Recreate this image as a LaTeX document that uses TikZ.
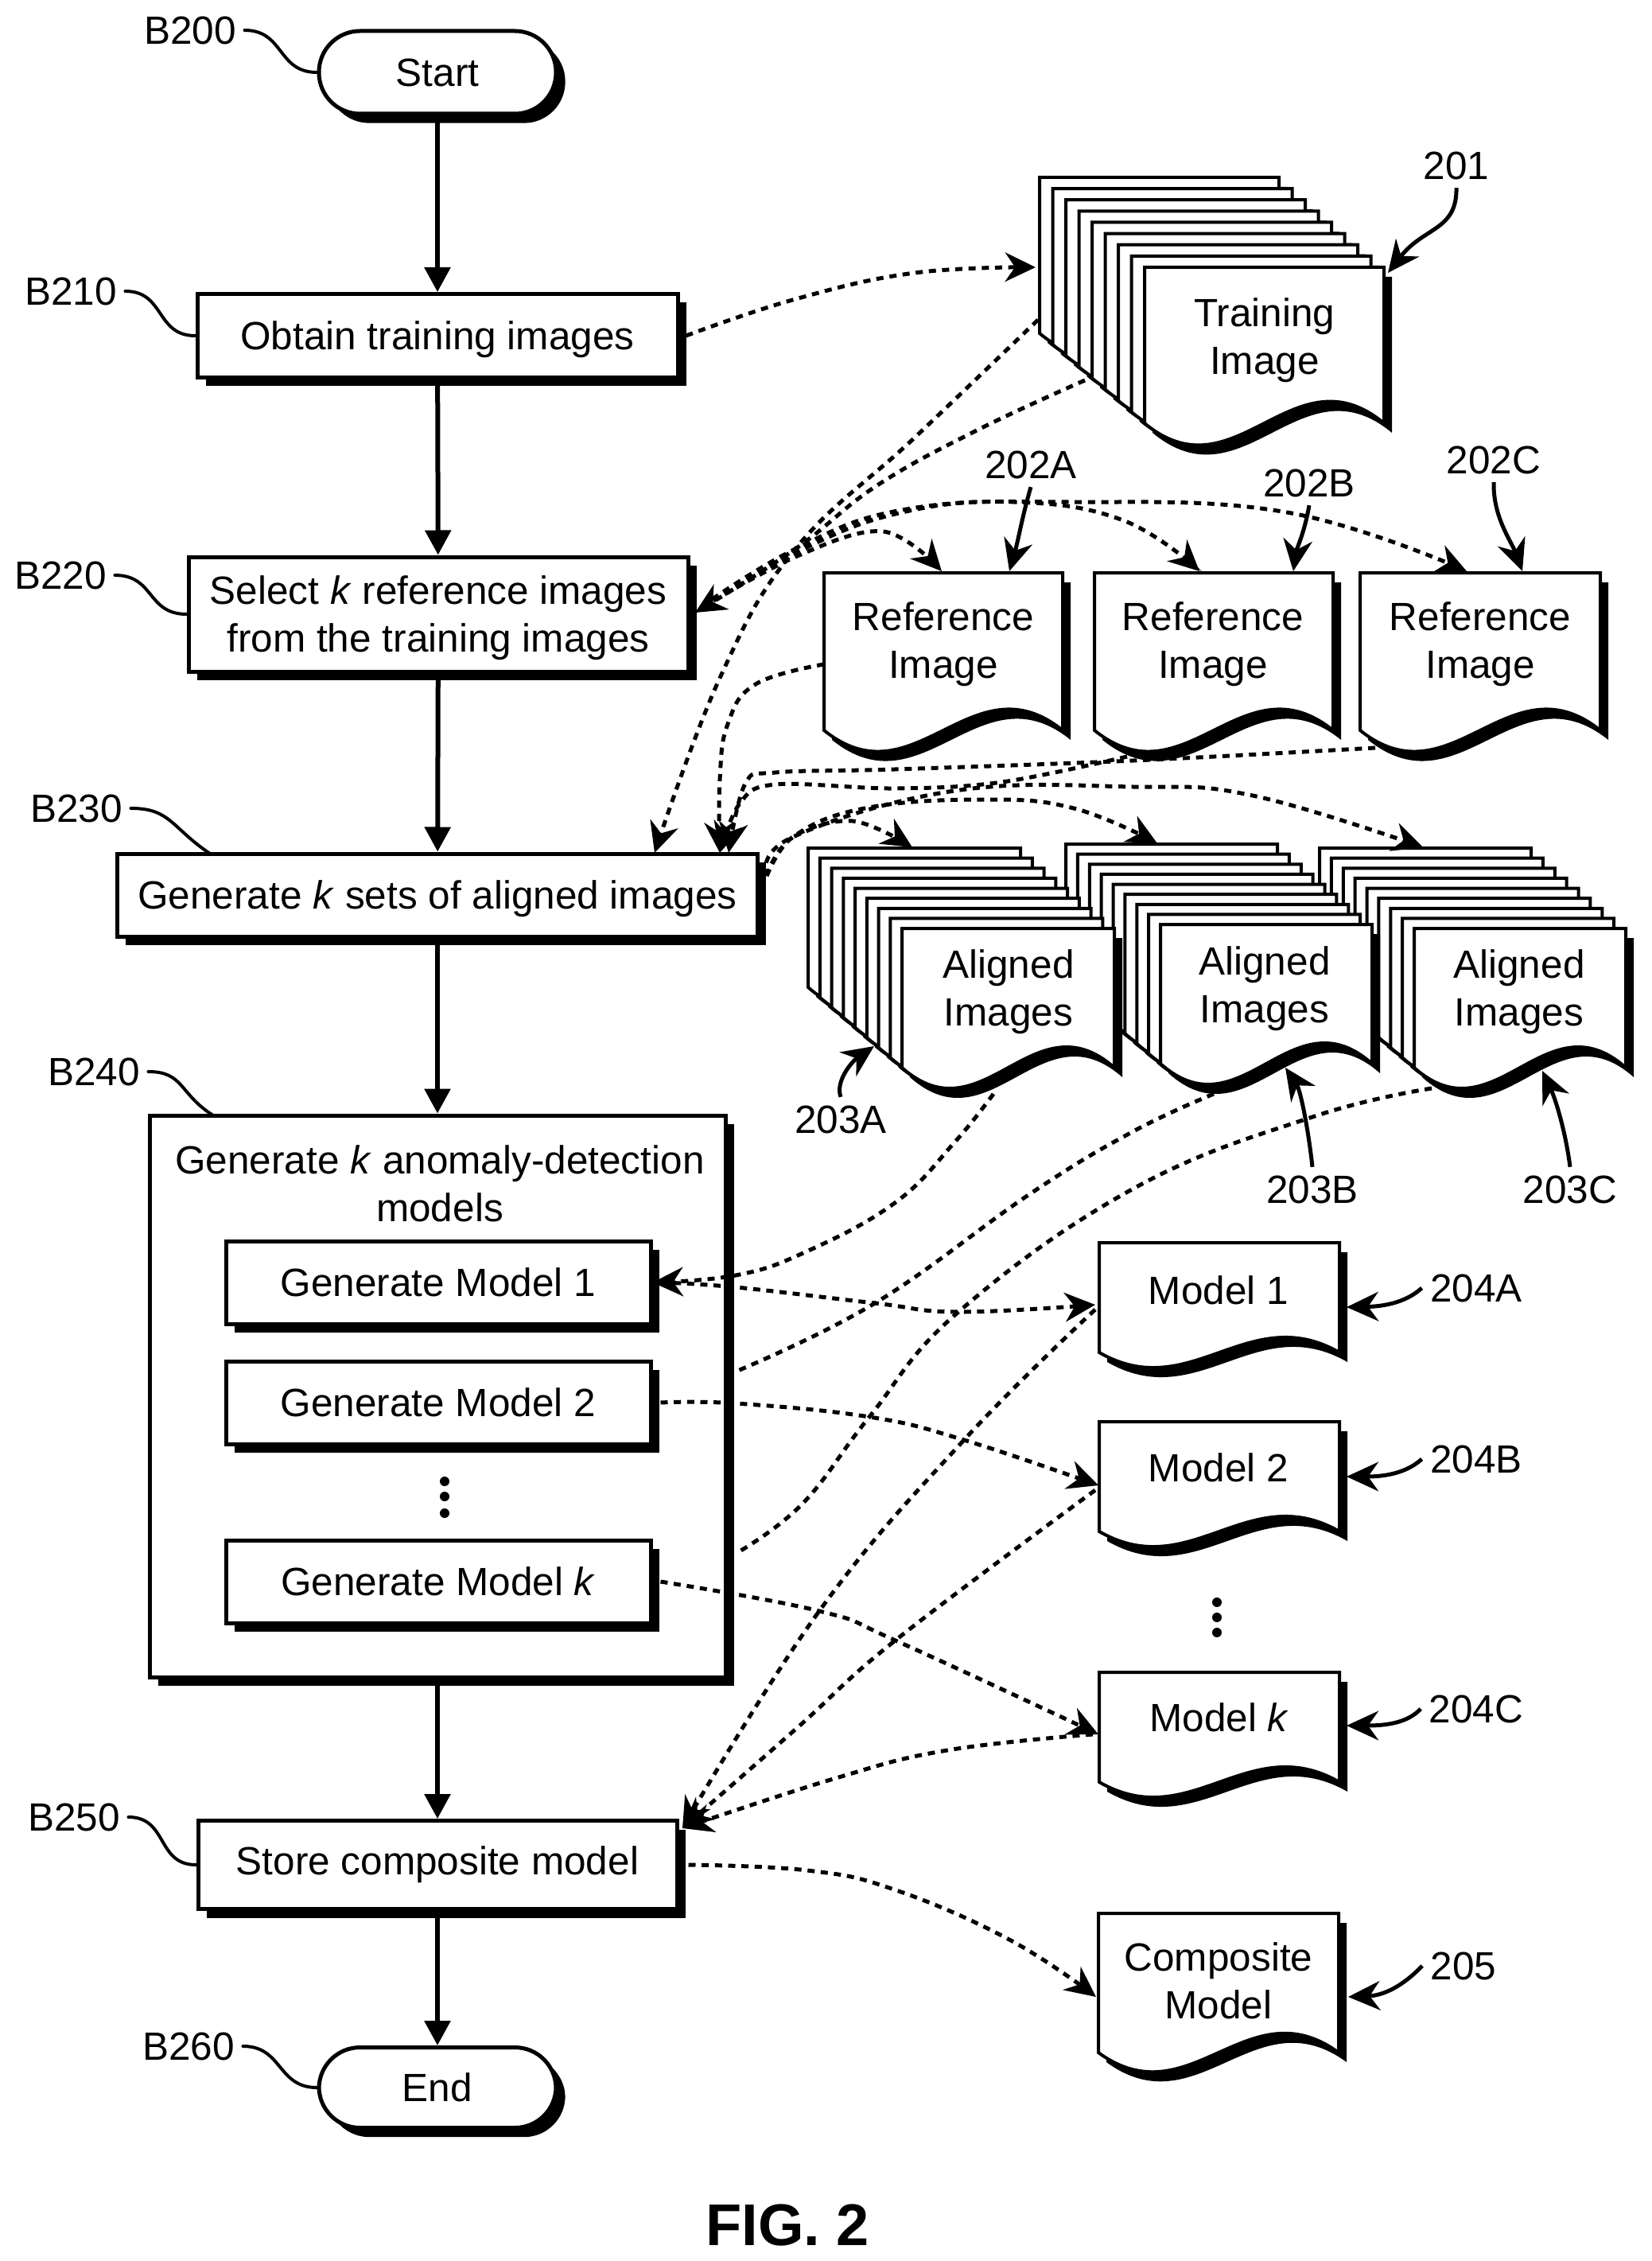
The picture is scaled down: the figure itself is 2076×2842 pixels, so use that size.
\documentclass[tikz,border=0pt]{standalone}
\usepackage{fontspec}
\setmainfont{Liberation Sans}
\usetikzlibrary{arrows.meta,shadows,calc}
\newcommand{\pagedoc}[3]{%
  \pgfmathsetmacro{\wa}{#1}\pgfmathsetmacro{\ha}{#2}\pgfmathsetmacro{\aa}{#3}%
  \fill[black] (10,12) -- (\wa+10,12) -- (\wa+10,\ha+12)
     .. controls ({.62*\wa+10},{\ha-\aa+12}) and ({.38*\wa+10},{\ha+\aa+12}) .. (10,\ha+12) -- cycle;
  \filldraw[fill=white,draw=black,line width=1.2pt,miter limit=2] (0,0) -- (\wa,0) -- (\wa,\ha)
     .. controls ({.62*\wa},{\ha-\aa}) and ({.38*\wa},{\ha+\aa}) .. (0,\ha) -- cycle;
}
% x0 y0 x1 y1 w h a : stack of nine pages, back to front
\newcommand{\stackdoc}[7]{%
  \foreach \i in {0,...,8}{
    \pgfmathsetmacro{\px}{#1+(#3-#1)*\i/8}
    \pgfmathsetmacro{\py}{#2+(#4-#2)*\i/8}
    \begin{scope}[shift={(\px,\py)}]\pagedoc{#5}{#6}{#7}\end{scope}
  }
}
\newcommand{\singledoc}[5]{\begin{scope}[shift={(#1,#2)}]\pagedoc{#3}{#4}{#5}\end{scope}}
\def\u{0.3pt}
\tikzset{
  x=0.3pt,y=-0.3pt,
  txt/.style={font=\fontsize{14.85pt}{18pt}\selectfont,align=center,inner sep=0pt},
  lbl/.style={font=\fontsize{14.85pt}{18pt}\selectfont,inner sep=3pt},
  procbox/.style={txt,draw=black,fill=white,line width=1.5pt,
     general shadow={fill=black,shadow xshift=3.2pt,shadow yshift=-3.3pt}},
  termbox/.style={procbox,rounded corners=15.5pt,general shadow={fill=black,shadow xshift=3.5pt,shadow yshift=-3.5pt}},
  flow/.style={line width=1.8pt,-{Triangle[length=9.3pt,width=9.6pt]}},
  leader/.style={line width=1.2pt,line cap=round},
  refarrow/.style={line width=1.5pt,-{Stealth[length=12pt,width=11pt]}},
  dconn/.style={line width=1.5pt,dash pattern=on 2.7pt off 2.3pt,-{Stealth[length=11.5pt,width=11pt]}},
  dplain/.style={line width=1.5pt,dash pattern=on 2.7pt off 2.3pt},
  dotmark/.style={circle,fill=black,inner sep=0pt,minimum size=3.6pt},
}
\begin{document}
\begin{tikzpicture}
\useasboundingbox (0,0) rectangle (2076,2842);
% flow boxes
\node[termbox,minimum width=298*\u,minimum height=104*\u] (start) at (550,91) {Start};
\node[procbox,text depth=0pt,minimum width=604*\u,minimum height=105*\u] (obtain) at (550,422) {Obtain training images};
\node[procbox,text depth=0pt,minimum width=628*\u,minimum height=144*\u] (select) at (551,772) {Select \textit{k} reference images\\from the training images};
\node[procbox,text depth=0pt,minimum width=805*\u,minimum height=104*\u] (gensets) at (550,1125) {Generate \textit{k} sets of aligned images};
\node[procbox,minimum width=724*\u,minimum height=706*\u] (bigbox) at (550,1755) {};
\node[txt] (bigtitle) at (553,1488) {Generate \textit{k} anomaly-detection\\models};
\node[procbox,minimum width=534*\u,minimum height=104*\u] (gm1) at (551,1612) {Generate Model 1};
\node[procbox,minimum width=534*\u,minimum height=104*\u] (gm2) at (551,1763) {Generate Model 2};
\node[procbox,minimum width=534*\u,minimum height=104*\u] (gmk) at (551,1988) {Generate Model \textit{k}};
\node[dotmark] (d1) at (559,1862) {};
\node[dotmark] (d2) at (559,1881) {};
\node[dotmark] (d3) at (559,1902) {};
\node[procbox,minimum width=602*\u,minimum height=111*\u] (store) at (550,2344) {Store composite model};
\node[termbox,minimum width=298*\u,minimum height=101*\u] (end) at (550,2624) {End};
% step labels
\node[lbl] (b200) at (239,38) {B200};
\node[lbl] (b210) at (89,366) {B210};
\node[lbl] (b220) at (76,723) {B220};
\node[lbl] (b230) at (96,1016) {B230};
\node[lbl] (b240) at (118,1347) {B240};
\node[lbl] (b250) at (93,2284) {B250};
\node[lbl] (b260) at (237,2572) {B260};
\draw[leader] (b200.east) .. controls +(50,0) and ([xshift=-50*\u]start.west) .. (start.west);
\draw[leader] (b210.east) .. controls +(50,0) and ([xshift=-50*\u]obtain.west) .. (obtain.west);
\draw[leader] (b220.east) .. controls +(50,0) and ([xshift=-50*\u]select.west) .. (select.west);
\coordinate (gsTop) at (264,1073);
\coordinate (bbTop) at (268,1402);
\draw[leader] (b230.east) .. controls +(50,0) and (215,1040) .. (gsTop);
\draw[leader] (b240.east) .. controls +(45,0) and (225,1375) .. (bbTop);
\draw[leader] (b250.east) .. controls +(50,0) and ([xshift=-50*\u]store.west) .. (store.west);
\draw[leader] (b260.east) .. controls +(50,0) and ([xshift=-50*\u]end.west) .. (end.west);
% main flow
\draw[flow] (start) -- (obtain);
\draw[flow] (obtain) -- (select);
\draw[flow] (select) -- (gensets);
\draw[flow] (gensets) -- (bigbox);
\draw[flow] (bigbox) -- (store);
\draw[flow] (store) -- (end);
% documents
\stackdoc{1307}{223}{1439}{336}{301}{196}{95}
\node[txt] (train) at (1590,428) {Training\\Image};
\singledoc{1036}{720}{300}{198}{92}
\singledoc{1376}{720}{300}{198}{92}
\singledoc{1710}{720}{302}{198}{92}
\node[txt] (ref1) at (1186,810) {Reference\\Image};
\node[txt] (ref2) at (1525,810) {Reference\\Image};
\node[txt] (ref3) at (1861,810) {Reference\\Image};
\stackdoc{1659}{1066}{1778}{1167}{266}{175}{90}
\stackdoc{1340}{1061}{1459}{1162}{266}{175}{90}
\stackdoc{1016}{1066}{1134}{1167}{267}{175}{90}
\node[txt] (al1) at (1268,1247) {Aligned\\Images};
\node[txt] (al2) at (1590,1243) {Aligned\\Images};
\node[txt] (al3) at (1910,1247) {Aligned\\Images};
\singledoc{1382}{1562}{302}{138}{66}
\singledoc{1382}{1787}{302}{138}{66}
\singledoc{1382}{2102}{302}{138}{66}
\singledoc{1381}{2405}{302}{175}{84}
\node[txt] (m1) at (1532,1622) {Model 1};
\node[txt] (m2) at (1532,1845) {Model 2};
\node[txt] (mk) at (1533,2159) {Model \textit{k}};
\node[txt] (comp) at (1532,2490) {Composite\\Model};
\node[dotmark] (e1) at (1530,2014) {};
\node[dotmark] (e2) at (1530,2033) {};
\node[dotmark] (e3) at (1530,2052) {};
% part labels
\node[lbl] (l201) at (1831,208) {201};
\node[lbl] (l202a) at (1296,584) {202A};
\node[lbl] (l202b) at (1646,607) {202B};
\node[lbl] (l202c) at (1878,578) {202C};
\node[lbl] (l203a) at (1057,1407) {203A};
\node[lbl] (l203b) at (1650,1495) {203B};
\node[lbl] (l203c) at (1974,1495) {203C};
\node[lbl] (l204a) at (1856,1619) {204A};
\node[lbl] (l204b) at (1856,1834) {204B};
\node[lbl] (l204c) at (1856,2148) {204C};
\node[lbl] (l205) at (1840,2471) {205};
\coordinate (t201) at (1745,343);
\coordinate (t202a) at (1269,718);
\coordinate (t202b) at (1626,718);
\coordinate (t202c) at (1914,718);
\coordinate (t203a) at (1099,1315);
\coordinate (t203b) at (1616,1342);
\coordinate (t203c) at (1939,1346);
\coordinate (t204a) at (1693,1643);
\coordinate (t204b) at (1693,1856);
\coordinate (t204c) at (1693,2169);
\coordinate (t205) at (1695,2510);
\draw[refarrow] (l201.south) .. controls (1832,290) and (1790,285) .. (t201);
\draw[refarrow] (l202a.south) .. controls (1285,650) and (1280,680) .. (t202a);
\draw[refarrow] (l202b.south) .. controls (1640,670) and (1630,690) .. (t202b);
\draw[refarrow] (l202c.south) .. controls (1877,650) and (1900,680) .. (t202c);
\draw[refarrow] (l203a.north) .. controls (1050,1360) and (1070,1335) .. (t203a);
\draw[refarrow] (l203b.north) .. controls (1645,1420) and (1635,1370) .. (t203b);
\draw[refarrow] (l203c.north) .. controls (1968,1420) and (1955,1380) .. (t203c);
\draw[refarrow] (l204a.west) .. controls (1770,1635) and (1745,1642) .. (t204a);
\draw[refarrow] (l204b.west) .. controls (1770,1850) and (1745,1856) .. (t204b);
\draw[refarrow] (l204c.west) .. controls (1770,2165) and (1745,2169) .. (t204c);
\draw[refarrow] (l205.west) .. controls (1770,2490) and (1745,2508) .. (t205);
% dashed data flows
\coordinate (trL) at (1302,336);
\coordinate (trS1) at (1305,402);
\coordinate (trS2) at (1364,478);
\coordinate (selR) at (874,770);
\coordinate (selA) at (868,772);
\coordinate (gsT1) at (823,1072);
\coordinate (gsT2) at (905,1072);
\coordinate (gsT3) at (916,1072);
\coordinate (gsR) at (964,1101);
\coordinate (r1T) at (1184,718);
\coordinate (r2T) at (1508,718);
\coordinate (r3T) at (1844,718);
\coordinate (r1L) at (1036,835);
\coordinate (r2B) at (1417,951);
\coordinate (r3B) at (1729,940);
\coordinate (a1T) at (1147,1065);
\coordinate (a2T) at (1455,1060);
\coordinate (a3T) at (1789,1065);
\coordinate (a1B) at (1249,1375);
\coordinate (a2B) at (1526,1375);
\coordinate (a3B) at (1800,1368);
\coordinate (bbR1) at (925,1724);
\coordinate (bbR2) at (928,1951);
\coordinate (m1L) at (1377,1640);
\coordinate (m2L) at (1381,1867);
\coordinate (mkL) at (1381,2180);
\coordinate (cmL) at (1378,2510);
\coordinate (stT) at (858,2298);
\coordinate (m1S) at (1377,1646);
\coordinate (m2S) at (1377,1873);
\coordinate (mkS) at (1374,2180);
\draw[dconn] plot[smooth,tension=.7] coordinates {([xshift=8*\u]obtain.east) (1000,376) (1150,343) (trL)};
\draw[dconn] plot[smooth,tension=.7] coordinates {(trS1) (1150,550) (1000,690) (906,850) (gsT1)};
\draw[dconn] plot[smooth,tension=.7] coordinates {(trS2) (1230,540) (1103,610) (1000,690) (selR)};
\draw[dconn] plot[smooth,tension=.6] coordinates {(selA) (1000,700) (1110,668) (r1T)};
\draw[dconn] plot[smooth,tension=.7] coordinates {(selA) (1000,695) (1130,645) (1275,631) (1412,654) (r2T)};
\draw[dconn] plot[smooth,tension=.7] coordinates {(selA) (1000,690) (1140,640) (1343,631) (1618,644) (r3T)};
\draw[dconn] plot[smooth,tension=.7] coordinates {(r1L) (950,860) (915,910) (905,980) (gsT2)};
\draw[dconn] plot[smooth,tension=.6] coordinates {(r2B) (1260,983) (1125,991) (975,986) (930,1010) (gsT2)};
\draw[dconn] plot[smooth,tension=.6] coordinates {(r3B) (1425,956) (1125,967) (975,971) (937,985) (gsT3)};
\draw[dconn] plot[smooth,tension=.6] coordinates {(gsR) (997,1052) (1072,1032) (a1T)};
\draw[dconn] plot[smooth,tension=.7] coordinates {(gsR) (997,1052) (1087,1016) (1237,1005) (1350,1016) (a2T)};
\draw[dconn] plot[smooth,tension=.7] coordinates {(gsR) (997,1052) (1200,994) (1425,989) (1575,1000) (a3T)};
\draw[dconn] plot[smooth,tension=.7] coordinates {(a1B) (1200,1436) (1125,1512) (1012,1574) (925,1603) (gm1.east)};
\draw[dconn] plot[smooth,tension=.7] coordinates {([xshift=10*\u]gm1.east) (925,1618) (1100,1638) (1205,1649) (m1L)};
\draw[dplain] plot[smooth,tension=.7] coordinates {(a2B) (1425,1422) (1296,1500) (1100,1638) (bbR1)};
\draw[dplain] plot[smooth,tension=.7] coordinates {(a3B) (1650,1404) (1425,1494) (1205,1649) (1093,1781) (1009,1890) (bbR2)};
\draw[dconn] plot[smooth,tension=.7] coordinates {([xshift=10*\u]gm2.east) (925,1764) (1093,1781) (1212,1810) (m2L)};
\draw[dconn] plot[smooth,tension=.7] coordinates {([xshift=10*\u]gmk.east) (1030,2025) (1128,2063) (mkL)};
\draw[dconn] plot[smooth,tension=.7] coordinates {(m1S) (1212,1810) (1030,2025) (stT)};
\draw[dconn] plot[smooth,tension=.7] coordinates {(m2S) (1128,2060) (1002,2172) (stT)};
\draw[dconn] plot[smooth,tension=.7] coordinates {(mkS) (1191,2200) (1051,2235) (stT)};
\draw[dconn] plot[smooth,tension=.7] coordinates {([xshift=12*\u]store.east) (1015,2351) (1124,2375) (1269,2438) (cmL)};
% caption
\node[font=\fontsize{22.2pt}{26pt}\selectfont\bfseries,inner sep=0pt] (fig) at (990,2797) {FIG. 2};
\end{tikzpicture}
\end{document}
